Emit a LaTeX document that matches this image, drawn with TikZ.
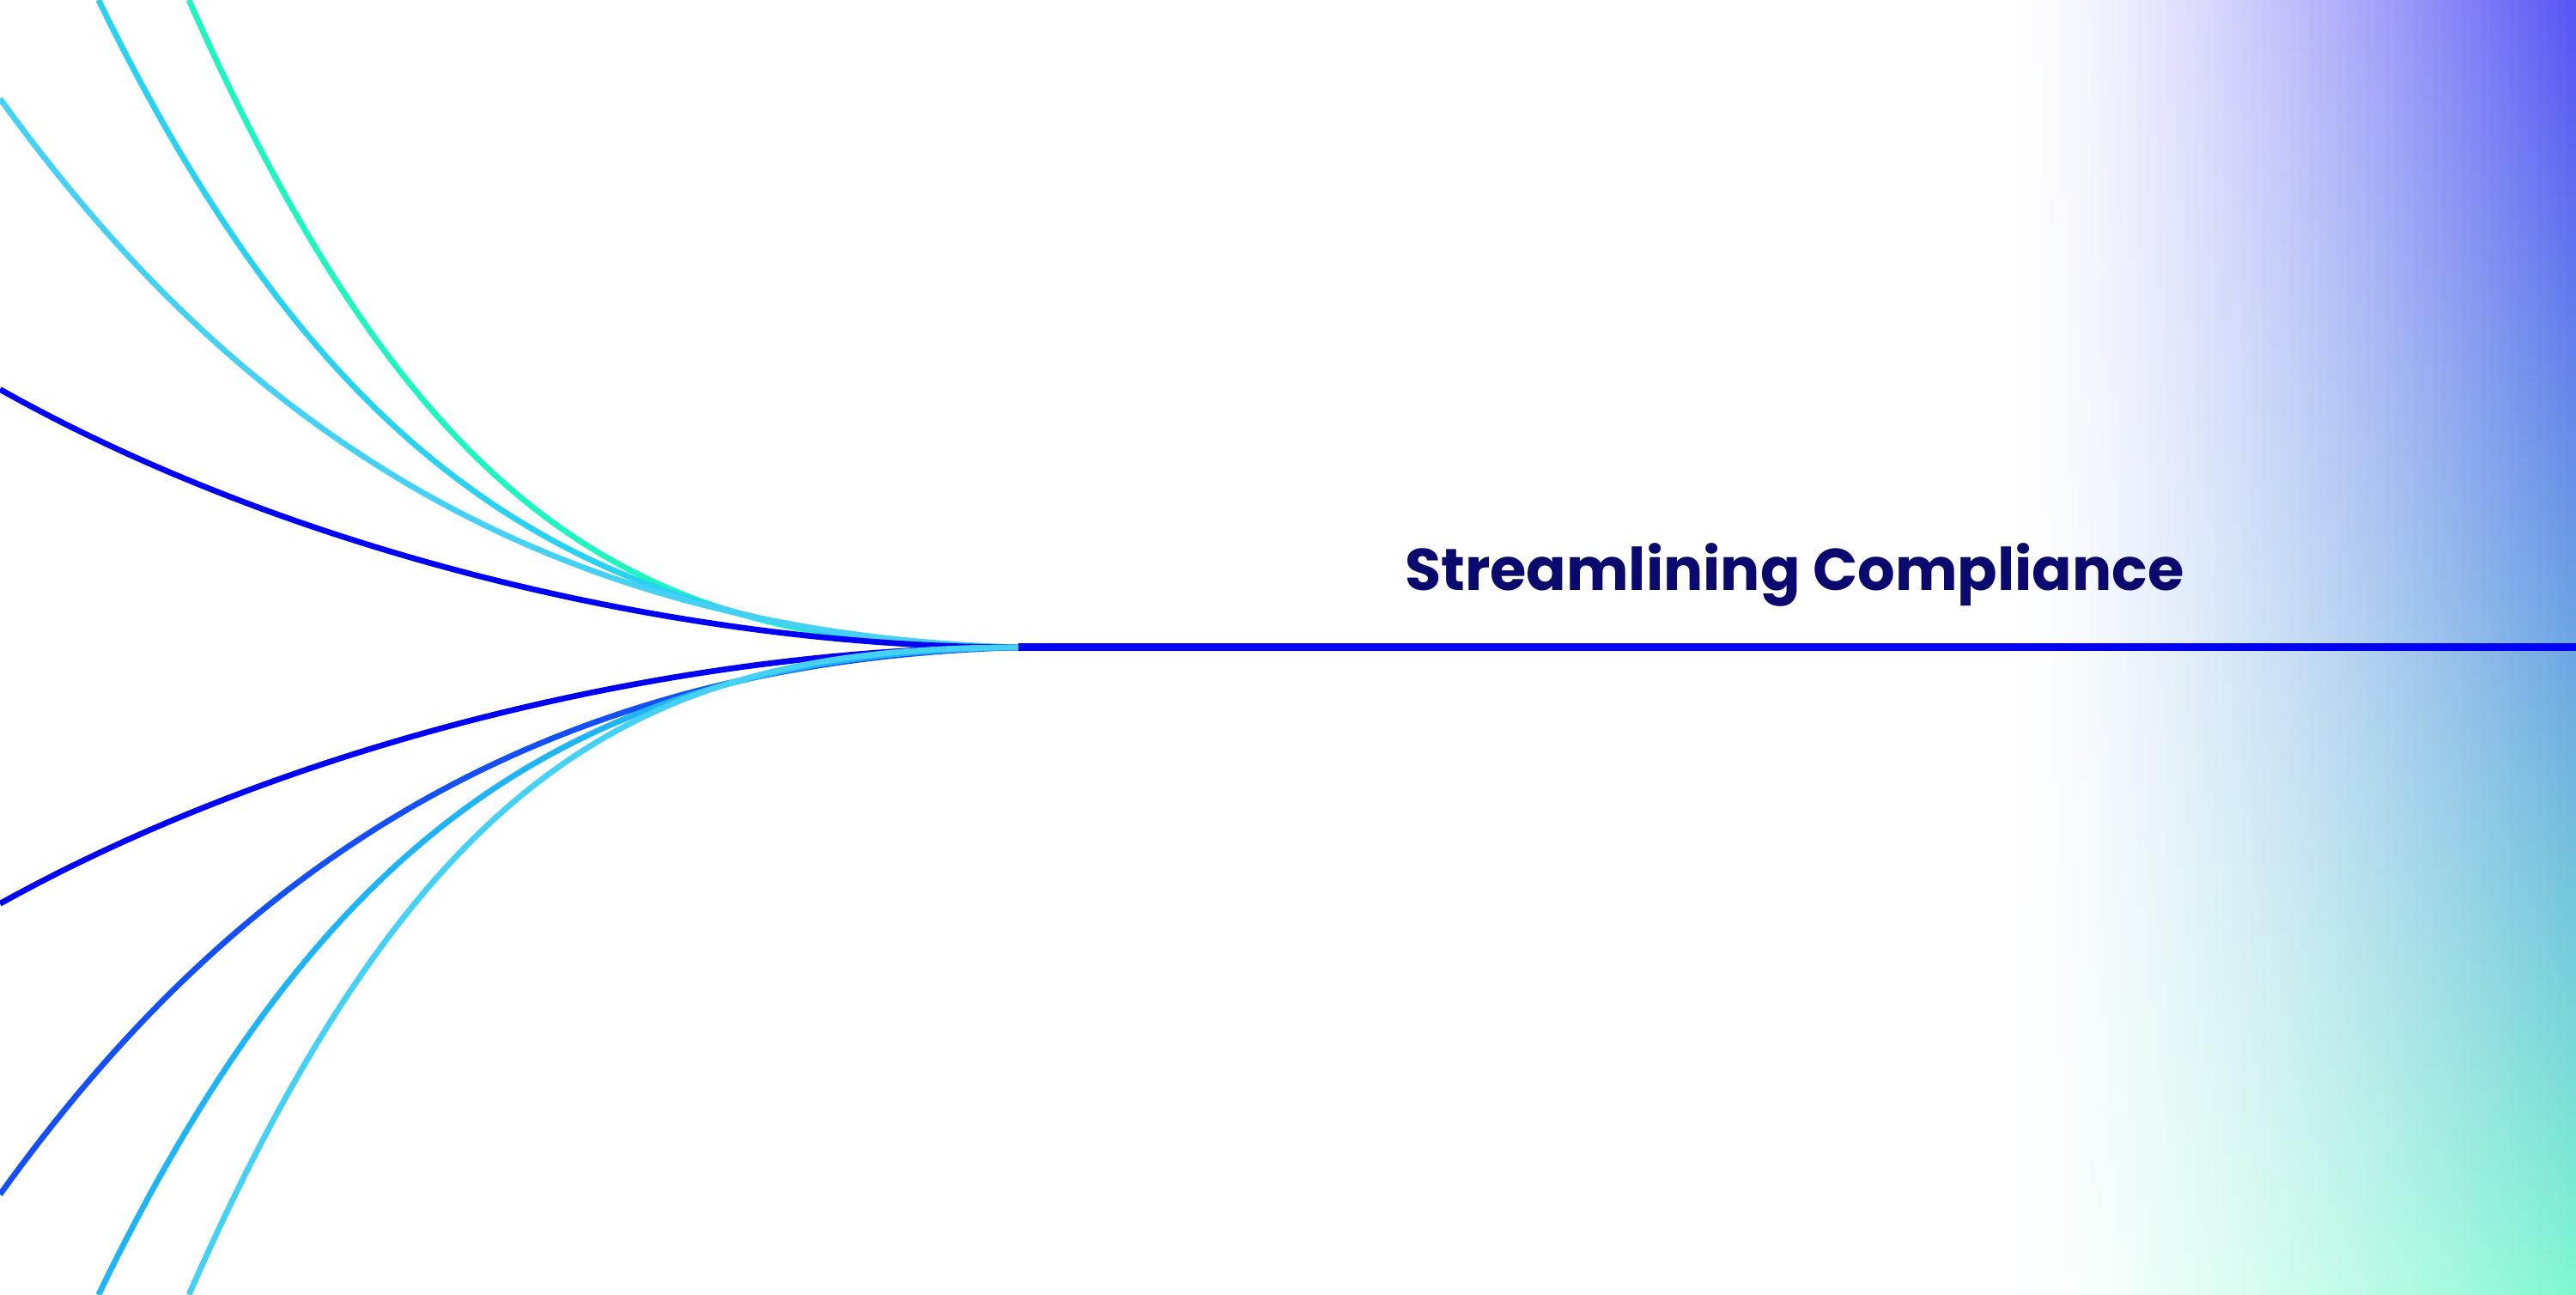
\documentclass[tikz,border=0pt]{standalone}
\usepackage{fontspec}
\setmainfont{Poppins}
\definecolor{navy}{HTML}{0A0A6E}
\definecolor{strand}{HTML}{0000F5}
\definecolor{mint}{HTML}{1EF5C0}
\definecolor{sky}{HTML}{45D0F5}
\definecolor{cyan}{HTML}{28D2F0}
\definecolor{azure}{HTML}{1EB4F5}
\definecolor{royal}{HTML}{1450F5}
\definecolor{violet}{HTML}{5A55F5}
\definecolor{glowblue}{HTML}{8CD4F8}
\definecolor{glowgreen}{HTML}{80F8D0}
\tikzset{
  fibre/.style={line width=1pt},
  spine/.style={line width=1.3pt, strand},
}
\begin{document}
\begin{tikzpicture}
\useasboundingbox (0,0) rectangle (15.68,7.88);

% Glow in the right corner, built from thin strips
\foreach \i in {0,...,59}{
  \pgfmathsetmacro{\mix}{100*(\i/59)^1.4}
  \pgfmathsetmacro{\xa}{12.2+\i*3.48/60}
  \pgfmathsetmacro{\xb}{\xa+0.062}
  \shade[top color=violet!\mix!white, middle color=glowblue!\mix!white,
        bottom color=glowgreen!\mix!white, shading angle=0]
    (\xa,0) rectangle (\xb,7.88);
}

% Hub where all strands meet
\coordinate (hub) at (6.2,3.94);
\coordinate (tail) at (15.68,3.94);

% Upper strands
\coordinate (u1) at (1.15,7.88);
\coordinate (u2) at (0.6,7.88);
\coordinate (u3) at (0,7.28);
\coordinate (u4) at (0,5.51);
\draw[fibre, mint] (u1) .. controls (2.6,4.6) and (4.0,3.94) .. (hub);
\draw[fibre, cyan] (u2) .. controls (2.0,5.0) and (3.6,3.98) .. (hub);
\draw[fibre, sky] (u3) .. controls (1.5,5.2) and (3.4,4.02) .. (hub);
\draw[fibre, strand] (u4) .. controls (1.8,4.5) and (4.2,3.94) .. (hub);

% Lower strands
\coordinate (l1) at (0,2.38);
\coordinate (l2) at (0,0.61);
\coordinate (l3) at (0.6,0);
\coordinate (l4) at (1.15,0);
\draw[fibre, strand] (l1) .. controls (1.8,3.38) and (4.2,3.94) .. (hub);
\draw[fibre, royal] (l2) .. controls (1.5,2.7) and (3.4,3.86) .. (hub);
\draw[fibre, azure] (l3) .. controls (2.0,2.9) and (3.6,3.90) .. (hub);
\draw[fibre, sky] (l4) .. controls (2.6,3.3) and (4.0,3.94) .. (hub);

% Main line
\draw[spine] (hub) -- (tail);

% Title
\node[anchor=south east, inner sep=0pt, text=navy, font=\fontsize{10.2}{12}\selectfont\bfseries]
  (title) at (13.3,4.18) {Streamlining Compliance};
\end{tikzpicture}
\end{document}
